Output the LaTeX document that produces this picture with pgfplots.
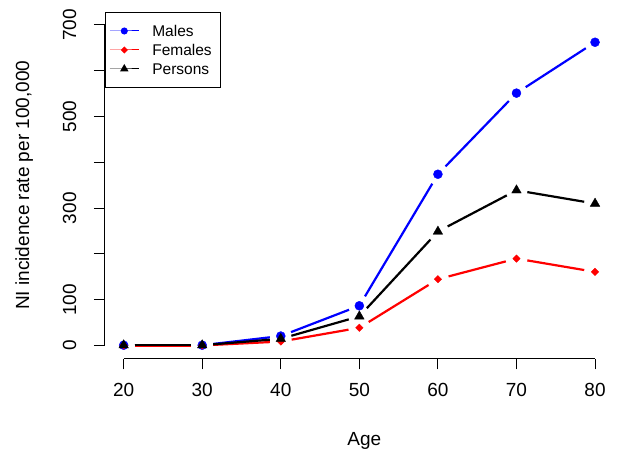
\documentclass[border=0pt]{standalone}
\usepackage{fontspec}
\setmainfont{Liberation Sans}
\usepackage{pgfplots}
\pgfplotsset{compat=1.18}
\newcommand{\seg}[5]{\addplot[#1, line width=2.2bp, forget plot, shorten <=11bp, shorten >=11bp] coordinates {(#2,#3) (#4,#5)};}
\begin{document}
\begin{tikzpicture}
\begin{axis}[
  at={(104.8bp,95.5bp)}, anchor=south west,
  scale only axis, width=509.1bp, height=346.5bp,
  xmin=17.6, xmax=82.4, ymin=-28, ymax=728,
  clip=false,
  axis line style={draw=none},
  tick align=outside, major tick length=11bp,
  tick pos=left,
  tick style={black, line width=1bp},
  xtick={20,30,...,80}, ytick={0,100,...,700},
  yticklabels={0,100,,300,,500,,700},
  minor tick num=0,
  /pgf/number format/assume math mode=true,
  ticklabel style={font=\fontsize{19bp}{22bp}\selectfont},
  xticklabel style={yshift=-10bp},
  yticklabel style={xshift=-14bp, rotate=90, anchor=south},
  xlabel={Age}, ylabel={NI incidence rate per 100,000},
  every axis x label/.style={at={(axis description cs:0.5,0)}, anchor=center, yshift=-82.5bp, xshift=5bp, font=\fontsize{19bp}{22bp}\selectfont},
  every axis y label/.style={at={(axis description cs:0,0.5)}, xshift=-80.5bp, rotate=90, anchor=center, font=\fontsize{19bp}{22bp}\selectfont},
  legend image code/.code={\draw[mark repeat=2, mark phase=2, #1] plot coordinates {(0bp,0bp) (14.5bp,0bp) (29bp,0bp)};},
  legend style={at={(0,1)}, anchor=north west, draw=black, line width=1bp, fill=white,
    inner xsep=4bp, inner ysep=9bp, row sep=0pt,
    font=\fontsize{15.5bp}{19bp}\selectfont,
    nodes={inner sep=0pt, text height=15bp, text depth=4bp},
    /tikz/every odd column/.append style={column sep=13bp},
    /tikz/every even column/.append style={text width=64bp}},
  legend cell align=left,
]
% Males
\seg{blue}{20}{1}{30}{1}
\seg{blue}{30}{1}{40}{21}
\seg{blue}{40}{21}{50}{87}
\seg{blue}{50}{87}{60}{374}
\seg{blue}{60}{374}{70}{551}
\seg{blue}{70}{551}{80}{662}
\addplot[only marks, forget plot, mark=*, mark size=4.5bp, blue] coordinates {(20,1) (30,1) (40,21) (50,87) (60,374) (70,551) (80,662)};
% Females
\seg{red}{20}{0.5}{30}{0.5}
\seg{red}{30}{0.5}{40}{9}
\seg{red}{40}{9}{50}{39}
\seg{red}{50}{39}{60}{145}
\seg{red}{60}{145}{70}{190}
\seg{red}{70}{190}{80}{161}
\addplot[only marks, forget plot, mark=square*, mark size=2.6bp, mark options={rotate=45}, red] coordinates {(20,0.5) (30,0.5) (40,9) (50,39) (60,145) (70,190) (80,161)};
% Persons
\seg{black}{20}{1}{30}{1}
\seg{black}{30}{1}{40}{15}
\seg{black}{40}{15}{50}{64}
\seg{black}{50}{64}{60}{249}
\seg{black}{60}{249}{70}{339}
\seg{black}{70}{339}{80}{310}
\addplot[only marks, forget plot, mark=triangle*, mark size=5.5bp, black] coordinates {(20,1) (30,1) (40,15) (50,64) (60,249) (70,339) (80,310)};
\addlegendimage{blue, line width=1bp, mark=*, mark size=3bp}
\addlegendentry{Males}
\addlegendimage{red, line width=1bp, mark=square*, mark size=2bp, mark options={rotate=45}}
\addlegendentry{Females}
\addlegendimage{black, line width=1bp, mark=triangle*, mark size=4bp}
\addlegendentry{Persons}
\draw[line width=1bp] (axis cs:20,-28) -- (axis cs:80,-28);
\draw[line width=1bp] (axis cs:17.6,0) -- (axis cs:17.6,700);
\end{axis}
\pgfresetboundingbox
\useasboundingbox (0,0) rectangle (630bp,454bp);
\end{tikzpicture}
\end{document}
